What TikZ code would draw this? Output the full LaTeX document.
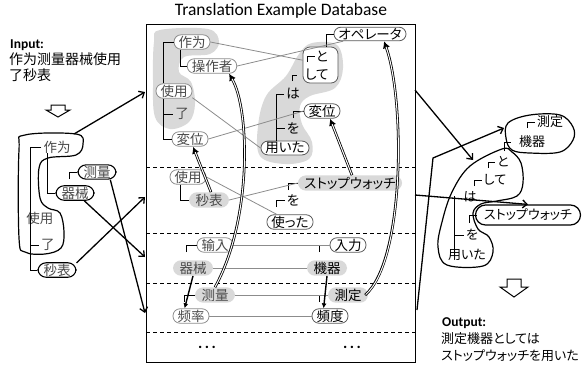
\documentclass[tikz,border=0pt]{standalone}
\usepackage{fontspec}
\setmainfont{Carlito}
\newfontfamily\cjk[RawFeature=+palt]{Noto Sans CJK JP}
\usetikzlibrary{arrows.meta,calc}

\definecolor{blobgray}{HTML}{D9D9D9}
\definecolor{zhtext}{HTML}{4A4A4A}
\definecolor{boxgray}{HTML}{8C8C8C}
\definecolor{jaedge}{HTML}{5A5A5A}
\definecolor{linkgray}{HTML}{8C8C8C}

\tikzset{
  zhfont/.style={font=\cjk\fontsize{13.5}{13.5}\selectfont, text=zhtext},
  jafont/.style={font=\cjk\fontsize{13.5}{13.5}\selectfont, text=black},
  zhbox/.style={zhfont, draw=boxgray, fill=white, line width=0.8pt, rounded corners=7pt, inner xsep=4.5pt, inner ysep=1pt},
  jabox/.style={jafont, draw=jaedge, fill=white, line width=0.8pt, rounded corners=7pt, inner xsep=4.5pt, inner ysep=1pt},
  zhshade/.style={zhfont, fill=blobgray, rounded corners=8pt, inner xsep=6.5pt, inner ysep=1.5pt},
  jashade/.style={jafont, fill=blobgray, rounded corners=8pt, inner xsep=6.5pt, inner ysep=1.5pt},
  zhword/.style={zhfont, inner sep=0pt},
  jaword/.style={jafont, inner sep=0pt},
  srcword/.style={font=\cjk\fontsize{13.5}{13.5}\selectfont, text=zhtext, inner sep=0pt},
  srcbox/.style={font=\cjk\fontsize{13.5}{13.5}\selectfont, text=zhtext, draw=black, fill=white, line width=1.1pt, rounded corners=8pt, inner xsep=5.5pt, inner ysep=1pt},
  outword/.style={font=\cjk\fontsize{13}{13}\selectfont, text=black, inner sep=0pt},
  tree/.style={line width=0.9pt, draw=black},
  link/.style={draw=linkgray, line width=0.8pt},
  flow/.style={line width=1.3pt, -{Straight Barb[length=4.5pt,width=8pt,line width=1.3pt]}},
  dep/.style={line width=1.4pt, -{Latex[length=5pt,width=5pt]}},
  dbl/.style={line width=2.6pt, -{Latex[length=7pt,width=7.5pt]}, postaction={draw=white, line width=1pt, arrows=-, shorten >=6pt, shorten <=0.6pt}},
  sepline/.style={dash pattern=on 4pt off 3pt, line width=0.8pt},
  outline/.style={line width=1.2pt, draw=black},
  hollow/.style={line width=1pt, draw=black, fill=white, line join=miter},
  heading/.style={font=\bfseries\fontsize{13.5}{13.5}\selectfont, inner sep=0pt, anchor=west},
  ellip/.style={font=\bfseries\fontsize{16}{16}\selectfont, inner sep=0pt},
}

\begin{document}
\begin{tikzpicture}[x=1pt,y=-1pt]
\useasboundingbox (0,0) rectangle (582,365);

% ---------- database ----------
\node[font=\fontsize{17.5}{17.5}\selectfont] (title) at (281,11) {Translation Example Database};
\node[draw, line width=1.1pt, minimum width=269, minimum height=338, anchor=north west, inner sep=0pt] (db) at (146,24) {};
\foreach \yy in {167,233,283,332} \draw[sepline] (146,\yy) -- (415,\yy);

% shaded source / target groups of the first example
\fill[blobgray] plot[smooth cycle, tension=0.6] coordinates {(160,30) (208,29) (219,42) (210,54) (184,57) (179,72) (191,82) (195,104) (189,122) (170,129) (155,117) (153,80) (154,42)};
\fill[blobgray] plot[smooth cycle, tension=0.6] coordinates {(312,43) (337,45) (343,68) (335,88) (310,96) (300,106) (302,124) (312,142) (309,159) (285,164) (260,156) (258,126) (266,96) (286,76) (299,54)};

% example 1, source side
\node[zhbox] (a1) at (192,42) {作为};
\node[zhbox] (a2) at (212,66) {操作者};
\node[zhbox] (a3) at (174,91) {使用};
\node[zhword] (a4) at (182,114) {了};
\node[zhbox] (a5) at (190,139) {変位};
\coordinate (s1) at (163,0);
\draw[tree] (a1.west) -| (a3.north -| s1);
\draw[tree] (a3.south -| s1) |- (a5.west);
\draw[tree] (a4.west -| s1) -- ([xshift=-2]a4.west);
\draw[tree] ([xshift=-12]a1.south) |- (a2.west);

% example 1, target side
\node[jabox] (b1) at (370,34) {オペレータ};
\node[draw=jaedge, fill=white, line width=0.8pt, rounded corners=7pt, minimum width=35, minimum height=36, inner sep=0pt] (b2) at (320.5,65) {};
\node[jaword] (b2a) at (322,56) {と};
\node[jaword] (b2b) at (317,75) {して};
\node[jaword] (b3) at (293,94) {は};
\node[jabox] (b4) at (322,111) {変位};
\node[jaword] (b5) at (293,128) {を};
\node[jabox] (b6) at (285,148) {用いた};
\coordinate (s3) at (326,0);
\coordinate (s5) at (276,0);
\draw[tree] (b2.north -| s3) |- (b1.west);
\draw[tree] ([shift={(-8,6)}]b2a.west) |- ([xshift=-1]b2a.west);
\draw[tree] ([shift={(-13,6)}]b2b.west) |- ([xshift=-8]b2b.west);
\draw[tree] ([xshift=-2]b3.west) -| (b6.north -| s5);
\draw[tree] (b5.west -| s5) -- ([xshift=-2]b5.west);
\draw[tree] ([shift={(-10,7)}]b4.west) |- (b4.west);

\draw[link] (a1.east) -- (b2.165);
\draw[link] (a2.east) -- (b1.195);
\draw[link] (a3.-20) -- (b6.west);
\draw[link] (a5.east) -- (b4.west);

% example 2
\node[zhbox] (c1) at (188,177) {使用};
\node[zhshade] (c2) at (209,200) {秒表};
\node[jashade] (c3) at (350,183) {ストップウォッチ};
\node[jaword] (c4) at (293,200) {を};
\node[jabox] (c5) at (290,222) {使った};
\draw[tree] ([xshift=-8]c1.south) |- (c2.west);
\draw[tree] ([shift={(-9,7)}]c3.west) |- (c3.west);
\draw[tree] ([shift={(-10,7)}]c4.west) |- ([xshift=-2]c4.west);
\draw[link] (c2.east) -- (c3.west);
\draw[link] (c1.east) -- (c5.150);

% example 3
\node[zhbox] (d1) at (215,245) {输入};
\node[zhshade] (d2) at (193,268) {器械};
\node[jabox] (d3) at (348,245) {入力};
\node[jashade] (d4) at (327,268) {機器};
\draw[tree] ([shift={(-10,7)}]d1.west) |- (d1.west);
\draw[tree] ([shift={(-10,7)}]d3.west) |- (d3.west);
\draw[link] (d1.east) -- (d3.west);
\draw[link] (d2.east) -- (d4.west);

% example 4
\node[zhshade] (e1) at (215,295) {测量};
\node[zhbox] (e2) at (191,316) {频率};
\node[jashade] (e3) at (348,295) {測定};
\node[jabox] (e4) at (330,316) {頻度};
\draw[tree] ([shift={(-10,7)}]e1.west) |- (e1.west);
\draw[tree] ([shift={(-8,7)}]e3.west) |- (e3.west);
\draw[link] (e1.east) -- (e3.west);
\draw[link] (e2.east) -- (e4.west);

\node[ellip] (m1) at (207,347) {.\hspace{2.5pt}.\hspace{2.5pt}.};
\node[ellip] (m2) at (352,347) {.\hspace{2.5pt}.\hspace{2.5pt}.};

% dependencies inside the examples
\draw[dep] (d2.south) -- (e2.130);
\draw[dep] (d4.south) -- (e4.130);
\draw[dbl] ([xshift=2]c2.north) -- ([xshift=3]a5.south);
\draw[dbl] (e1.north) .. controls (252,220) and (250,110) .. ([xshift=17]a2.south);
\draw[dbl] ([xshift=2]c3.north) -- ([xshift=8]b4.south);
\draw[dbl] ([xshift=-3]e3.east) .. controls (405,260) and (405,100) .. ([xshift=14]b1.south);

% ---------- input ----------
\node[heading] (inhead) at (10,45) {Input:};
\node[font=\cjk\fontsize{14}{15.5}\selectfont, align=left, anchor=north west, inner sep=0pt] (insent) at (9,53) {作为测量器械使用\\了秒表};
\draw[hollow] (51,105) -- (65,105) -- (65,110) -- (70,110) -- (58,117) -- (46,110) -- (51,110) -- cycle;

\draw[outline] plot[smooth cycle, tension=0.6] coordinates {(25,135) (76,134) (83,144) (76,155) (48,158) (39,168) (40,198) (48,208) (60,213) (64,232) (61,248) (45,254) (25,252) (19,238) (19,150)};
\coordinate (inTop) at (74,134);
\node[srcword] (f1) at (57,147) {作为};
\node[srcword] (f2) at (40,218) {使用};
\node[srcword] (f3) at (48,245) {了};
\node[srcbox] (f4) at (57,270) {秒表};
\node[srcbox] (f5) at (75,193) {器械};
\node[srcbox] (f6) at (97,172) {测量};
\coordinate (sp) at (30,0);
\draw[tree] ([xshift=-2]f1.west) -| ([yshift=-8]f2.north -| sp);
\draw[tree] ([yshift=8]f2.south -| sp) |- (f4.west);
\draw[tree] (f3.west -| sp) -- ([xshift=-2]f3.west);
\draw[tree] ([xshift=-10]f1.south) |- (f5.west);
\draw[tree] ([shift={(-8,7)}]f6.west) |- (f6.west);

\coordinate (inA) at (145,92);
\coordinate (inB) at (145,197);
\coordinate (inC) at (145,257);
\coordinate (inD) at (145,313);
\draw[flow] (inTop) -- (inA);
\draw[flow] (f4.20) -- (inB);
\draw[flow] (f5.-40) -- (inC);
\draw[flow] (f6.-30) -- (inD);

% ---------- output ----------
\draw[outline] plot[smooth cycle, tension=0.6] coordinates {(508,123) (530,115) (560,115) (573,127) (573,140) (560,152) (530,153) (512,150) (506,138)};
\draw[outline] plot[smooth cycle, tension=0.6] coordinates {(502,149) (512,152) (521,163) (523,183) (517,196) (497,201) (481,204) (473,213) (478,229) (489,237) (493,252) (483,266) (447,265) (438,247) (442,222) (452,192) (470,166)};
\node[outword, draw=black, line width=1.2pt, fill=white, rounded corners=10pt, minimum width=105, minimum height=20] (g5) at (528,215) {ストップウォッチ};
\node[outword] (h1) at (550,122) {測定};
\node[outword] (h2) at (532,142) {機器};
\node[outword] (h3) at (503,162) {と};
\node[outword] (h4) at (495,180) {して};
\node[outword] (h5) at (470,197) {は};
\node[outword] (h6) at (472,235) {を};
\node[outword] (h7) at (467,255) {用いた};
\coordinate (osp) at (454,0);
\draw[tree] ([shift={(-9,6)}]h1.west) |- ([xshift=-2]h1.west);
\draw[tree] ([shift={(-14,9)}]h2.west) |- ([xshift=-8]h2.west);
\draw[tree] ([shift={(-9,6)}]h3.west) |- ([xshift=-2]h3.west);
\draw[tree] ([shift={(-9,6)}]h4.west) |- ([xshift=-2]h4.west);
\draw[tree] ([shift={(-5,8)}]g5.west) |- ([xshift=2]g5.west);
\draw[tree] ([yshift=1]h5.west -| osp) -- ([yshift=-6]h7.north -| osp);
\draw[tree] (h6.west -| osp) -- ([xshift=-2]h6.west);

\coordinate (outA) at (415,90);
\coordinate (outB) at (415,195);
\coordinate (outC) at (417,310);
\coordinate (bend) at (433,158);
\coordinate (bigTop) at (473,160);
\coordinate (topBubble) at (504,128);
\draw[flow] (outA) -- (bigTop);
\draw[flow] (outB) -- (g5.north);
\draw[flow] (outC) -- (bend) -- (topBubble);

\draw[hollow] (507,279) -- (521,279) -- (521,287) -- (528,287) -- (514,297) -- (500,287) -- (507,287) -- cycle;
\node[heading] (outhead) at (442,323) {Output:};
\node[font=\cjk\fontsize{13}{17}\selectfont, align=left, anchor=north west, inner sep=0pt] (outsent) at (441,332) {測定機器としては\\ストップウォッチを用いた};
\end{tikzpicture}
\end{document}
